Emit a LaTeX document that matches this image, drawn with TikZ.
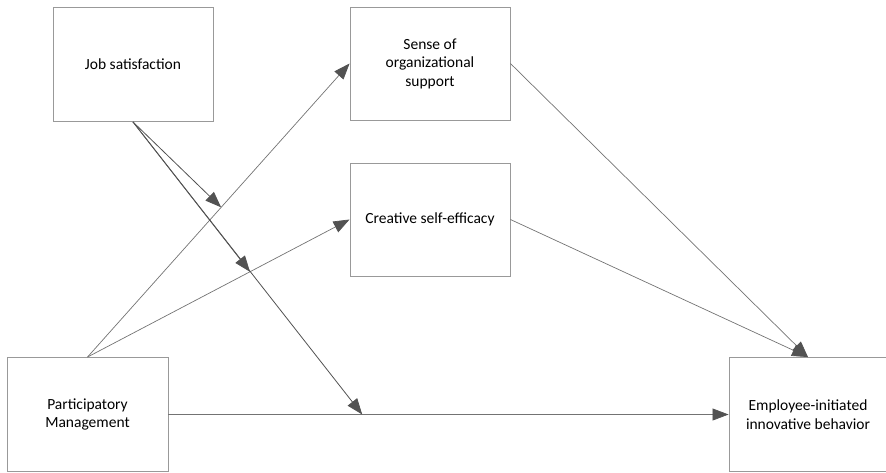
\documentclass[tikz,border=0pt]{standalone}
\usepackage{fontspec}
\setmainfont{Carlito}
\usetikzlibrary{arrows.meta}
\begin{document}
\begin{tikzpicture}[x=1pt,y=-1pt,
  box/.style={draw=black!40,line width=0.9pt,fill=white,minimum width=160pt,minimum height=114pt,
    align=center,inner sep=0pt,font=\fontsize{15.5pt}{18.5pt}\selectfont},
  conn/.style={draw=black!55,line width=0.7pt,-{Triangle[length=16pt,width=12pt,fill=black!68,color=black!68]}},
  connd/.style={draw=black!68,line width=0.8pt,-{Triangle[length=16pt,width=12pt,fill=black!68,color=black!68]}}]
\useasboundingbox (0,0) rectangle (886,472);
\node[box] (js) at (133,64.5) {Job satisfaction};
\node[box,minimum height=113pt] (sos) at (430,63.5) {Sense of\\organizational\\support};
\node[box,minimum height=113pt] (cse) at (430,219.5) {Creative self-efficacy};
\node[box,minimum width=161pt] (pm) at (87.5,414.5) {Participatory\\Management};
\node[box,minimum width=158pt] (ei) at (808,414.5) {Employee-initiated\\innovative behavior};
\path (pm.north) -- (sos.west) coordinate[pos=0.51] (m1);
\path (pm.north) -- (cse.west) coordinate[pos=0.62] (m2);
\path (pm.east) -- (ei.west) coordinate[pos=0.346] (m3);
\draw[conn] (pm.north) -- (sos.west);
\draw[conn] (pm.north) -- (cse.west);
\draw[conn] (pm.east) -- (ei.west);
\draw[conn] (sos.east) -- (ei.north);
\draw[conn] (cse.east) -- (ei.north);
\draw[connd] (js.south) -- (m1);
\draw[connd] (js.south) -- (m2);
\draw[connd] (js.south) -- (m3);
\end{tikzpicture}
\end{document}
